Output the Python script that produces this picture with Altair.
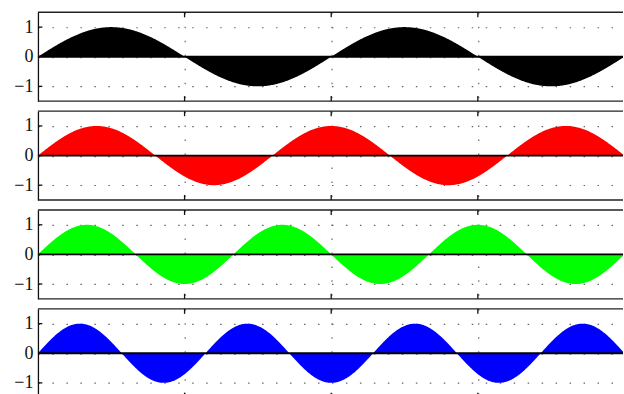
import altair as alt
import pandas as pd

# Parameters
colors = ["#000000", "#ff0000", "#00ff00", "#0000ff"]
frequencies = [1.0, 1.25, 1.5, 1.75]   # cycles per 2 x-units
amplitudes = [1.0, 1.0, 1.0, 1.0]
x_grid_values = [1, 2, 3]
y_tick_values = [-1, 0, 1]
x_domain = [0, 3.99]
y_domain = [-1.5, 1.5]

SERIF = "Liberation Serif"


def panel(color, freq, amp):
    xs = alt.X("t:Q", scale=alt.Scale(domain=x_domain, nice=False, zero=False),
               axis=alt.Axis(labels=False, ticks=False, domain=False, title=None,
                             values=x_grid_values, grid=True))
    ys_axis = alt.Axis(values=y_tick_values, title=None, labelFont=SERIF,
                       labelFontSize=18, labelColor="#111", labelPadding=5,
                       ticks=False, domain=True, domainColor="#111",
                       domainWidth=1.3, grid=True)
    base_y = alt.Scale(domain=y_domain, nice=False)

    area = (
        alt.Chart(alt.sequence(start=0, stop=4.0, step=0.004, as_="t"))
        .transform_calculate(v=f"{amp} * sin(PI * {freq} * datum.t)")
        .mark_area(color=color, opacity=1, clip=True)
        .encode(x=xs, y=alt.Y("v:Q", scale=base_y, axis=ys_axis), y2=alt.datum(0))
    )
    zero = alt.Chart().mark_rule(color="black", strokeWidth=1.8).encode(y=alt.datum(0))
    top = alt.Chart().mark_rule(color="#222", strokeWidth=1.4).encode(y=alt.datum(y_domain[1]))
    bottom = alt.Chart().mark_rule(color="#222", strokeWidth=1.4).encode(y=alt.datum(y_domain[0]))

    tick_df = pd.DataFrame({"t": x_grid_values})
    top_ticks = (
        alt.Chart(tick_df).mark_rule(color="#111", strokeWidth=1.3)
        .encode(x="t:Q", y=alt.datum(y_domain[1]), y2=alt.datum(y_domain[1] - 0.17))
    )
    bot_ticks = (
        alt.Chart(tick_df).mark_rule(color="#111", strokeWidth=1.3)
        .encode(x="t:Q", y=alt.datum(y_domain[0]), y2=alt.datum(y_domain[0] + 0.17))
    )
    ytick_df = pd.DataFrame({"v": y_tick_values})
    left_ticks = (
        alt.Chart(ytick_df).mark_rule(color="#111", strokeWidth=1.3)
        .encode(x=alt.datum(0), x2=alt.datum(0.03), y="v:Q")
    )
    return alt.layer(area, zero, top, bottom, top_ticks, bot_ticks, left_ticks).properties(
        width=586, height=89
    )


panels = [panel(c, f, a) for c, f, a in zip(colors, frequencies, amplitudes)]

chart = (
    alt.vconcat(*panels, spacing=10, bounds="flush")
    .properties(padding={"left": 13, "top": 11, "right": 0, "bottom": 0}, background="white")
    .configure_view(stroke=None)
    .configure_axis(gridColor="#666", gridDash=[1.5, 12.5], gridWidth=1.2)
)

chart.save("out.html", embed_options={"renderer": "svg", "actions": False})
